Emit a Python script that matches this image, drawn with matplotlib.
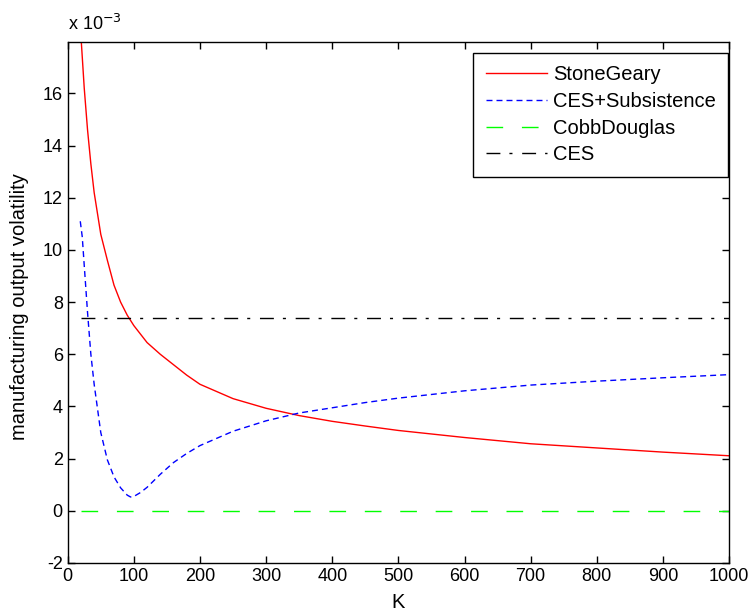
import numpy as np
import matplotlib
matplotlib.use('Agg')
import matplotlib.pyplot as plt

plt.rcParams['font.family'] = ['Liberation Sans', 'DejaVu Sans']

# values (y in units of 1e-3)
k_stone = [20, 25, 30, 35, 40, 50, 60, 70, 80, 90, 100, 120, 140, 160, 180, 200,
           250, 300, 350, 400, 450, 500, 600, 700, 800, 900, 1000]
stone_geary = [18.2, 16.2, 14.6, 13.3, 12.2, 10.6, 9.6, 8.65, 8.0, 7.5, 7.1, 6.45, 6.0,
               5.6, 5.2, 4.85, 4.3, 3.93, 3.65, 3.43, 3.25, 3.08, 2.81, 2.57, 2.41,
               2.25, 2.11]

k_ces_sub = [19, 22, 25, 30, 35, 40, 50, 60, 70, 80, 90, 95, 100, 110, 120, 140, 160,
             180, 200, 250, 300, 350, 400, 450, 500, 600, 700, 800, 900, 1000]
ces_subsistence = [11.1, 10.5, 9.4, 7.6, 6.0, 4.85, 3.0, 1.95, 1.3, 0.88, 0.6, 0.53,
                   0.55, 0.7, 0.9, 1.4, 1.85, 2.2, 2.5, 3.05, 3.45, 3.75, 3.95, 4.15,
                   4.32, 4.6, 4.82, 4.97, 5.1, 5.22]

k_flat = [20, 1000]
cobb_douglas = [0.0, 0.0]
ces = [7.38, 7.38]

scale = 1e-3

fig = plt.figure(figsize=(7.49, 6.15), dpi=100)
ax = fig.add_axes([0.0904, 0.0846, 0.883, 0.847])

ax.plot(k_stone, np.array(stone_geary) * scale, color='red', lw=1.0, label='StoneGeary')
ax.plot(k_ces_sub, np.array(ces_subsistence) * scale, color='blue', lw=1.0,
        dashes=(4.3, 2.9), label='CES+Subsistence')
ax.plot(k_flat, np.array(cobb_douglas) * scale, color='#00ff00', lw=1.0,
        dashes=(12, 13.5), label='CobbDouglas')
ax.plot(k_flat, np.array(ces) * scale, color='black', lw=1.0,
        dashes=(10, 6.5, 2.2, 7), label='CES')

ax.set_xlim(0, 1000)
ax.set_ylim(-0.002, 0.01797)
ax.set_xticks(np.arange(0, 1001, 100))
yt = np.arange(-2, 17, 2)
ax.set_yticks(yt * scale)
ax.set_yticklabels([str(v) for v in yt])
ax.tick_params(direction='in', top=True, right=True, labelsize=13, length=5, width=1)
for s in ax.spines.values():
    s.set_linewidth(1.0)

ax.set_xlabel('K', fontsize=14.5)
ax.xaxis.set_label_coords(0.5, -0.057)
ax.set_ylabel('manufacturing output volatility', fontsize=14.5)
ax.yaxis.set_label_coords(-0.058, 0.493)
ax.text(0.0, 1.015, r'x 10$^{-3}$', transform=ax.transAxes, fontsize=13,
        va='bottom', ha='left')

leg = ax.legend(loc='upper right', bbox_to_anchor=(0.999, 0.979), fontsize=14.5,
                fancybox=False, edgecolor='black', framealpha=1, handlelength=3.05,
                handletextpad=0.3, borderaxespad=0.0, labelspacing=0.38,
                borderpad=0.62)
leg.get_frame().set_linewidth(1.0)

fig.savefig('out.png', dpi=100)
